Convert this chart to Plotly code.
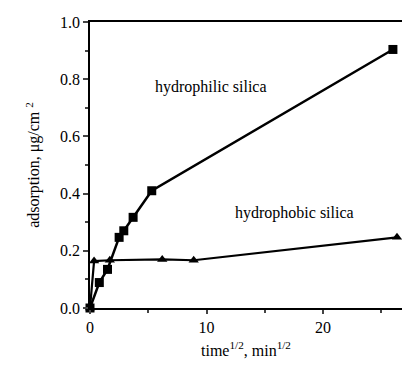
import plotly.graph_objects as go

# hydrophilic silica (squares)
philic_x = [0.0, 0.8, 1.5, 2.5, 2.9, 3.7, 5.3, 26.0]
philic_y = [0.0, 0.089, 0.135, 0.247, 0.27, 0.317, 0.41, 0.904]
# hydrophobic silica (triangles)
phobic_x = [0.0, 0.35, 1.7, 6.2, 8.9, 26.35]
phobic_y = [0.0, 0.164, 0.167, 0.17, 0.167, 0.247]

x_ticks = [0, 10, 20]
y_ticks = [0.0, 0.2, 0.4, 0.6, 0.8, 1.0]
y_tick_labels = ["0.0", "0.2", "0.4", "0.6", "0.8", "1.0"]

font = "'Liberation Serif', 'Times New Roman', Times, serif"

fig = go.Figure()
fig.add_trace(go.Scatter(x=phobic_x, y=phobic_y, mode="lines+markers",
                         line=dict(color="black", width=2.2),
                         marker=dict(symbol="triangle-up", size=9, color="black"),
                         cliponaxis=False, showlegend=False))
fig.add_trace(go.Scatter(x=philic_x, y=philic_y, mode="lines+markers",
                         line=dict(color="black", width=2.5),
                         marker=dict(symbol="square", size=9, color="black"),
                         cliponaxis=False, showlegend=False))

fig.add_annotation(x=10.4, y=0.771, text="hydrophilic silica", showarrow=False,
                   font=dict(family=font, size=16, color="black"))
fig.add_annotation(x=17.55, y=0.331, text="hydrophobic silica", showarrow=False,
                   font=dict(family=font, size=16, color="black"))

fig.update_layout(
    width=402, height=368,
    margin=dict(l=90, r=0, t=22, b=60),
    paper_bgcolor="white", plot_bgcolor="white",
    font=dict(family=font, size=16, color="black"),
    xaxis=dict(range=[0, 26.78], tickvals=x_ticks, ticks="outside", ticklen=4,
               tickwidth=1.5, showline=True, linecolor="black", linewidth=1.5,
               mirror=True, showgrid=False, zeroline=False,
               tickfont=dict(family=font, size=16),
               minor=dict(tickvals=[5, 15, 25], ticks="outside", ticklen=3),
               title=dict(text="time<sup>1/2</sup>, min<sup>1/2</sup>", standoff=10,
                          font=dict(family=font, size=16))),
    yaxis=dict(range=[0, 1.0], tickvals=y_ticks, ticktext=y_tick_labels,
               ticks="outside", ticklen=5, tickwidth=1.5,
               showline=True, linecolor="black", linewidth=1.5,
               showgrid=False, zeroline=False,
               tickfont=dict(family=font, size=16),
               minor=dict(tickvals=[0.1, 0.3, 0.5, 0.7, 0.9], ticks="outside", ticklen=3),
               title=dict(text="adsorption, μg/cm <sup>2</sup>", standoff=16,
                          font=dict(family=font, size=16))),
)

fig.write_html("out.html")
